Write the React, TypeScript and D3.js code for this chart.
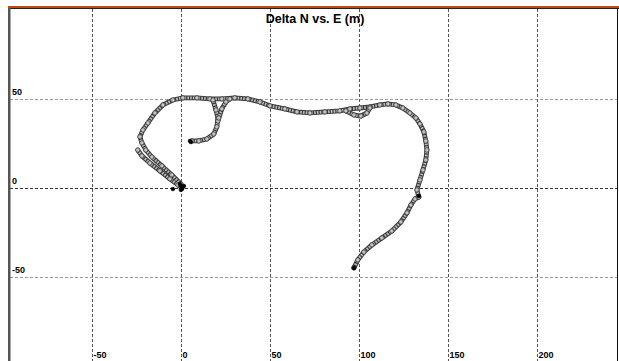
import React from 'react';
import { scaleLinear, line } from 'd3';

type Pt = [number, number];

const title = 'Delta N vs. E (m)';
const xTicks = [-50, 0, 50, 100, 150, 200];
const yTicks = [-50, 0, 50];

// track pieces, [E, N] in metres
const hookStart: Pt[] = [
  [-24.2, 21.3], [-21.9, 18.0], [-17.4, 14.0], [-11.8, 9.6], [-6.2, 5.1], [-1.7, 1.7], [0.6, 0],
];
const mainTrack: Pt[] = [
  [0, 2.2], [-5.1, 7.3], [-10.7, 12.4], [-16.3, 17.4], [-19.7, 21.3], [-21.9, 25.3], [-23.0, 28.7],
  [-21.3, 32.6], [-18.5, 36.5], [-14.6, 42.1], [-10.1, 46.6], [-4.5, 49.4], [1.1, 50.6], [9.0, 50.6],
  [16.3, 50.0], [23.0, 50.0], [30.3, 50.6], [37.6, 50.0], [44.4, 48.3], [50.0, 46.1], [58.4, 44.4],
  [65.2, 42.7], [72.5, 42.1], [80.9, 42.7], [89.3, 43.3], [94.9, 44.4], [100.6, 44.9], [106.2, 45.5],
  [111.8, 46.6], [116.3, 47.2], [120.8, 46.6], [124.7, 44.9], [128.7, 42.1], [132.0, 39.3],
  [134.3, 36.0], [136.5, 31.5], [137.6, 26.4], [138.2, 21.3], [137.6, 15.7], [136.0, 10.1],
  [134.3, 4.5], [132.6, -1.1], [133.7, -5.1], [131.5, -6.2], [129.2, -9.6], [127.0, -14.0],
  [123.6, -19.1], [118.5, -24.2], [112.9, -28.1], [107.3, -32.0], [102.8, -36.0], [99.4, -40.4],
  [97.2, -44.9],
];
const smallLoop: Pt[] = [
  [92.7, 43.3], [97.2, 41.0], [101.1, 40.4], [104.5, 42.1], [106.2, 44.9],
];
const innerLoop: Pt[] = [
  [6.2, 26.4], [10.1, 26.4], [14.6, 27.5], [18.5, 30.3], [20.2, 34.3], [20.8, 39.3], [19.7, 43.8], [18.0, 49.4],
];
const innerBranch: Pt[] = [
  [20.8, 37.6], [21.3, 39.3], [23.0, 44.4], [25.3, 48.3], [27.5, 50.0],
];
const blobs: Pt[] = [
  [0, 1.1], [0.6, -0.6], [1.1, 0.6], [-0.6, 2.2], [0, -1.1], [1.7, 1.1], [-4.5, -0.6],
  [5.1, 26.4], [5.6, 25.8], [133.7, -4.5], [97.2, -44.9],
];

const tracks = [hookStart, mainTrack, smallLoop, innerLoop, innerBranch];

const W = 619;
const H = 361;
const left = 10;
const right = 617;
const top = 9;

const x = scaleLinear().domain([-96, 245]).range([left, right]);
const y = scaleLinear().domain([-97.2, 100.5]).range([H, top]);
const path = line<Pt>().x((d) => x(d[0])).y((d) => y(d[1]));

const font = 'Arial, "Liberation Sans", sans-serif';

export default function App() {
  return (
    <svg
      width={W}
      height={H}
      style={{ position: 'absolute', left: 0, top: 0, background: '#fff' }}
    >
      {/* grid */}
      {yTicks.map((t) => (
        <line
          key={'gy' + t}
          x1={left}
          x2={right}
          y1={Math.round(y(t)) + 0.5}
          y2={Math.round(y(t)) + 0.5}
          stroke={t === 0 ? '#333' : '#999'}
          strokeDasharray="3,2"
        />
      ))}
      {xTicks.map((t) => (
        <line
          key={'gx' + t}
          x1={Math.round(x(t)) + 0.5}
          x2={Math.round(x(t)) + 0.5}
          y1={top}
          y2={H}
          stroke="#555"
          strokeDasharray="3,2"
        />
      ))}
      {/* tick labels */}
      {yTicks.map((t) => (
        <text
          key={'ly' + t}
          x={left + 2}
          y={Math.round(y(t)) - 4}
          fontFamily={font}
          fontWeight="bold"
          fontSize={9}
          fill="#000"
        >
          {t}
        </text>
      ))}
      {xTicks.map((t) => (
        <text
          key={'lx' + t}
          x={Math.round(x(t)) + 1.5}
          y={H - 3}
          fontFamily={font}
          fontWeight="bold"
          fontSize={9}
          fill="#000"
        >
          {t}
        </text>
      ))}
      {/* track */}
      {tracks.map((tr, i) => (
        <path key={'o' + i} d={path(tr) ?? ''} fill="none" stroke="#3a3a3a" strokeWidth={4.8} strokeLinejoin="round" strokeLinecap="round" />
      ))}
      {tracks.map((tr, i) => (
        <path key={'i' + i} d={path(tr) ?? ''} fill="none" stroke="#bdbdbd" strokeWidth={2.8} strokeDasharray="1.6,1.2" strokeLinejoin="round" />
      ))}
      {tracks.flat().map((d, i) => (
        <circle key={'c' + i} cx={x(d[0])} cy={y(d[1])} r={2.2} fill="#c4c4c4" stroke="#333" strokeWidth={0.8} />
      ))}
      {blobs.map((d, i) => (
        <circle key={'b' + i} cx={x(d[0])} cy={y(d[1])} r={1.8} fill="#000" stroke="#000" strokeWidth={0.8} />
      ))}
      {/* title */}
      <text x={315} y={23} textAnchor="middle" fontFamily={font} fontWeight="bold" fontSize={12.5} fill="#000">
        {title}
      </text>
      {/* frame */}
      <rect x={8} y={6} width={W - 8} height={2.5} fill="#c04a10" />
      <line x1={8} x2={W} y1={8.5} y2={8.5} stroke="#222" />
      <rect x={8} y={8} width={2.5} height={H} fill="#555" />
      <line x1={617.5} x2={617.5} y1={8} y2={H} stroke="#111" />
    </svg>
  );
}
